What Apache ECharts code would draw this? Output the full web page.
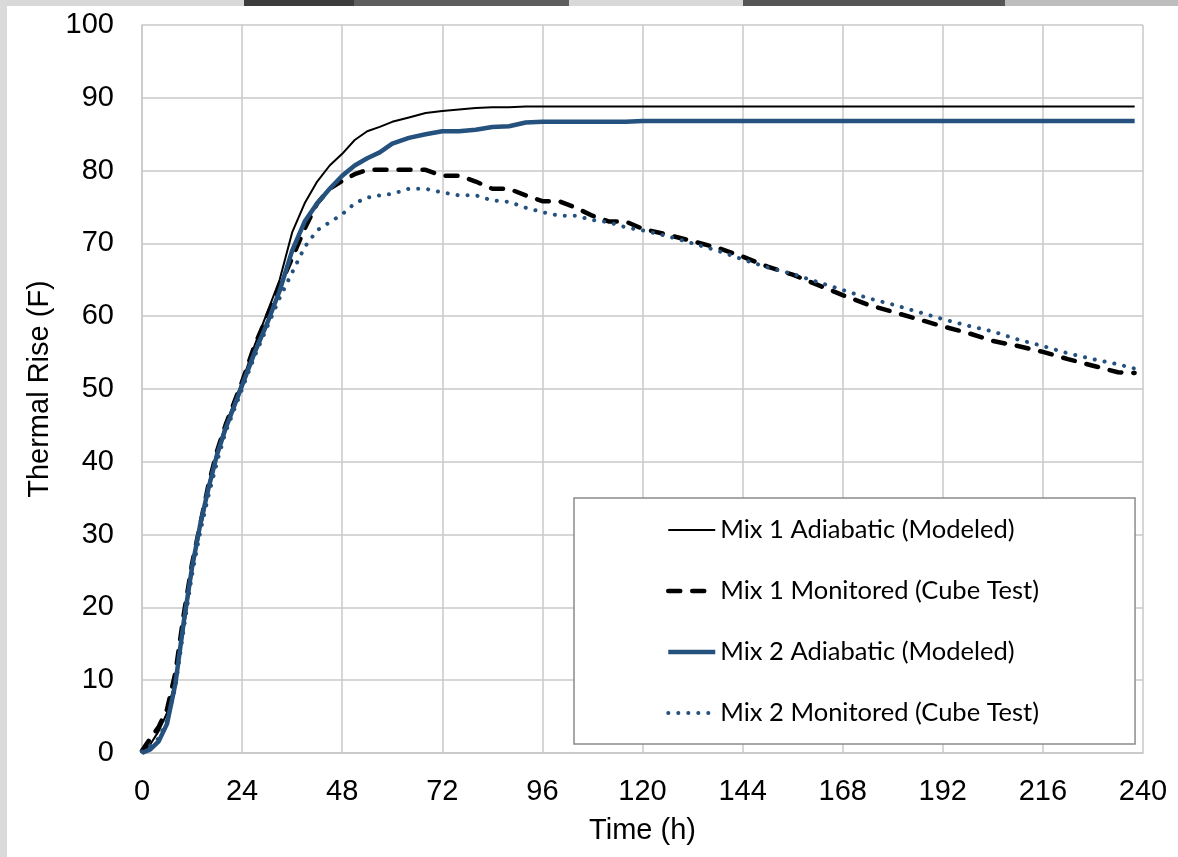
<!DOCTYPE html>
<html>
<head>
<meta charset="utf-8">
<script src="https://cdn.jsdelivr.net/npm/echarts@6/dist/echarts.min.js"></script>
<style>
  html, body { margin: 0; padding: 0; background: #fff; }
  #main { width: 1178px; height: 857px; }
</style>
</head>
<body>
<div id="main"></div>
<script>
// time axis (hours) shared by all four series
var hours = [0, 2, 4, 6, 8, 10, 12, 14, 16, 18, 20, 22, 24, 27, 30, 33, 36, 39, 42, 45, 48, 51, 54, 57, 60, 64, 68, 72, 76, 80, 84, 88, 92, 96, 100, 104, 108, 112, 116, 120, 126, 132, 138, 144, 150, 156, 162, 168, 174, 180, 186, 192, 198, 204, 210, 216, 222, 228, 234, 238];

var mix1Adiabatic = [0, 1.2, 3, 5.5, 10, 17, 25, 31.5, 37, 41.5, 45, 48, 51, 56, 60.5, 65, 71.5, 75.5, 78.5, 80.7, 82.3, 84.2, 85.4, 86, 86.7, 87.3, 87.9, 88.2, 88.4, 88.6, 88.7, 88.7, 88.8, 88.8, 88.8, 88.8, 88.8, 88.8, 88.8, 88.8, 88.8, 88.8, 88.8, 88.8, 88.8, 88.8, 88.8, 88.8, 88.8, 88.8, 88.8, 88.8, 88.8, 88.8, 88.8, 88.8, 88.8, 88.8, 88.8, 88.8];

var mix1Monitored = [0.3, 2, 3.6, 6, 11, 19, 26, 31.5, 37, 41.5, 45, 48, 51, 56, 60, 64, 68, 72, 75.5, 77.5, 78.6, 79.5, 80.1, 80.1, 80.1, 80.1, 80.1, 79.3, 79.3, 78.5, 77.5, 77.5, 76.6, 75.8, 75.8, 74.9, 73.8, 73.0, 73.0, 72.0, 71.2, 70.3, 69.4, 68.2, 66.8, 65.7, 64.3, 62.9, 61.6, 60.6, 59.6, 58.6, 57.7, 56.6, 55.9, 55.1, 54.1, 53.2, 52.3, 52.2];

var mix2Adiabatic = [0, 0.5, 1.6, 4, 9.5, 18, 25.5, 31.5, 36.5, 41, 44.5, 47.5, 50.5, 55, 59, 63.5, 69, 73, 75.5, 77.5, 79.3, 80.7, 81.7, 82.5, 83.7, 84.5, 85, 85.4, 85.4, 85.6, 86.0, 86.1, 86.6, 86.7, 86.7, 86.7, 86.7, 86.7, 86.7, 86.8, 86.8, 86.8, 86.8, 86.8, 86.8, 86.8, 86.8, 86.8, 86.8, 86.8, 86.8, 86.8, 86.8, 86.8, 86.8, 86.8, 86.8, 86.8, 86.8, 86.8];

var mix2Monitored = [0.2, 1.0, 2.0, 4.5, 9, 17, 24.5, 30.5, 35.5, 40, 44, 47, 50, 54.5, 58.5, 62.5, 66, 69.5, 71.8, 72.9, 74, 75.5, 76.3, 76.6, 76.8, 77.5, 77.5, 77.0, 76.6, 76.6, 75.9, 75.7, 74.9, 74.3, 73.8, 73.8, 73.2, 72.9, 72.2, 71.8, 71.0, 70.0, 69.0, 67.8, 66.7, 65.8, 64.7, 63.6, 62.5, 61.6, 60.6, 59.6, 58.7, 57.9, 56.8, 55.9, 54.9, 54.1, 53.4, 52.8];

var seriesNames = ['Mix 1 Adiabatic (Modeled)', 'Mix 1 Monitored (Cube Test)', 'Mix 2 Adiabatic (Modeled)', 'Mix 2 Monitored (Cube Test)'];

function pairs(vals) {
  return hours.map(function (h, i) { return [h, vals[i]]; });
}

var blue = '#24517d';
var gridGrey = '#c8c8c8';
var axisFont = 'Liberation Sans, Arial, sans-serif';

var chart = echarts.init(document.getElementById('main'));
chart.setOption({
  animation: false,
  backgroundColor: '#fff',
  grid: { left: 142, right: 35, top: 25, bottom: 104 },
  // window chrome around the screenshot
  graphic: [
    { type: 'rect', shape: { x: 0, y: 0, width: 1178, height: 6 }, style: { fill: '#d8d8d8' } },
    { type: 'rect', shape: { x: 244, y: 0, width: 110, height: 6 }, style: { fill: '#3c3c3c' } },
    { type: 'rect', shape: { x: 354, y: 0, width: 215, height: 6 }, style: { fill: '#5e5e5e' } },
    { type: 'rect', shape: { x: 743, y: 0, width: 262, height: 6 }, style: { fill: '#565656' } },
    { type: 'rect', shape: { x: 1005, y: 0, width: 173, height: 6 }, style: { fill: '#bdbdbd' } },
    { type: 'rect', shape: { x: 0, y: 0, width: 7, height: 857 }, style: { fill: '#dadada' } }
  ],
  legend: {
    orient: 'vertical',
    left: 574,
    top: 498,
    padding: [19, 96, 18, 92],
    itemWidth: 47,
    itemHeight: 14,
    itemGap: 35,
    borderColor: '#8c8c8c',
    borderWidth: 1.5,
    backgroundColor: '#fff',
    itemStyle: { opacity: 0 },
    lineStyle: { width: 'inherit' },
    textStyle: { fontFamily: 'Lato, sans-serif', fontSize: 25.5, color: '#000', lineHeight: 25 },
    data: seriesNames
  },
  xAxis: {
    type: 'value',
    min: 0, max: 240, interval: 24,
    name: 'Time (h)',
    nameLocation: 'middle',
    nameGap: 63,
    nameTextStyle: { fontFamily: axisFont, fontSize: 29, color: '#000' },
    axisLine: { show: true, lineStyle: { color: gridGrey, width: 1.5 } },
    axisTick: { show: false },
    axisLabel: { fontFamily: axisFont, fontSize: 29, color: '#000', margin: 24 },
    splitLine: { show: true, lineStyle: { color: gridGrey, width: 1.5 } }
  },
  yAxis: {
    type: 'value',
    min: 0, max: 100, interval: 10,
    name: 'Thermal Rise (F)',
    nameLocation: 'middle',
    nameGap: 88,
    nameTextStyle: { fontFamily: axisFont, fontSize: 29, color: '#000' },
    axisLine: { show: true, lineStyle: { color: gridGrey, width: 1.5 } },
    axisTick: { show: false },
    axisLabel: { fontFamily: axisFont, fontSize: 29, color: '#000', margin: 28 },
    splitLine: { show: true, lineStyle: { color: gridGrey, width: 1.5 } }
  },
  series: [
    {
      name: seriesNames[0], type: 'line', symbol: 'none',
      data: pairs(mix1Adiabatic),
      lineStyle: { color: '#000', width: 2 },
      itemStyle: { color: '#000' }
    },
    {
      name: seriesNames[1], type: 'line', symbol: 'none',
      data: pairs(mix1Monitored),
      lineStyle: { color: '#000', width: 4.5, type: [12, 12], cap: 'round' },
      itemStyle: { color: '#000' }
    },
    {
      name: seriesNames[2], type: 'line', symbol: 'none',
      data: pairs(mix2Adiabatic),
      lineStyle: { color: blue, width: 4.5, join: 'round' },
      itemStyle: { color: blue }
    },
    {
      name: seriesNames[3], type: 'line', symbol: 'none',
      data: pairs(mix2Monitored),
      lineStyle: { color: blue, width: 4, type: [0.1, 9.9], cap: 'round' },
      itemStyle: { color: blue }
    }
  ]
});
</script>
</body>
</html>
